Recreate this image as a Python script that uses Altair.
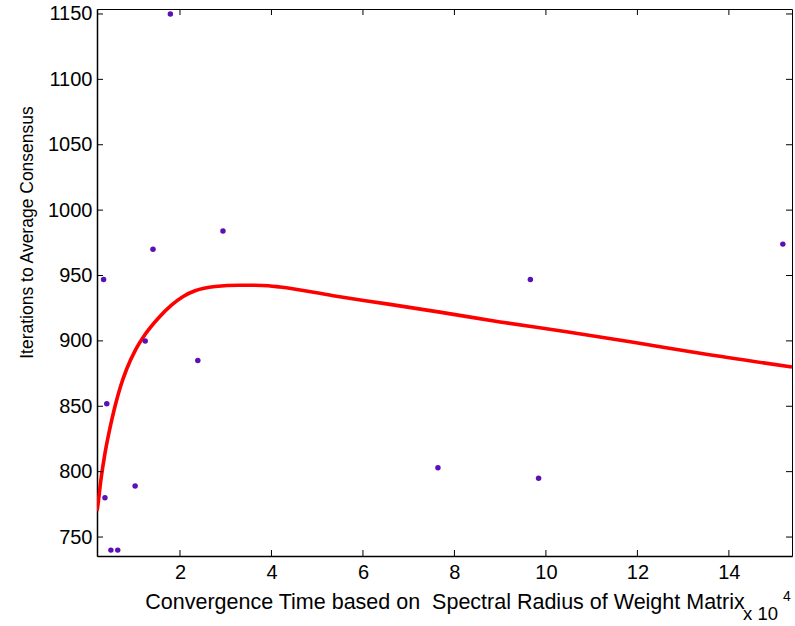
import altair as alt
import pandas as pd

# Scatter data (x in units of 10^4)
pt_x = [0.36, 0.40, 0.33, 0.49, 0.64, 1.02, 1.24, 1.41, 1.79, 2.39, 2.94, 7.64, 9.66, 9.84, 15.18]
pt_y = [780, 852, 947, 740, 740, 789, 900, 970, 1150, 885, 984, 803, 947, 795, 974]

# Fitted curve
cv_x = [0.186, 0.20, 0.27, 0.36, 0.47, 0.58, 0.69, 0.835, 1.02, 1.24, 1.53, 1.82, 2.07,
        2.33, 2.77, 3.3, 3.8, 4.19, 5.35, 6.52, 7.68, 9.0, 10.45, 11.91, 13.37, 15.38]
cv_y = [770, 773, 793.5, 814, 833.5, 850, 864, 878.5, 892.5, 905, 917.5, 927.5, 934,
        938.3, 941.6, 942.6, 942.4, 941.2, 934.5, 928.3, 922, 914.5, 907, 899, 890.5, 880]

x_ticks = [2, 4, 6, 8, 10, 12, 14]
y_ticks = [750, 800, 850, 900, 950, 1000, 1050, 1100, 1150]

x_title = "Convergence Time based on \u00a0Spectral Radius of Weight Matrix"
y_title = "Iterations to Average Consensus"

W, H = 695, 547
FONT = "Liberation Sans"

xs = alt.Scale(domain=[0.186, 15.38], nice=False, zero=False)
ys = alt.Scale(domain=[735.5, 1153.8], nice=False, zero=False)

pts = pd.DataFrame({"x": pt_x, "y": pt_y})
cur = pd.DataFrame({"x": cv_x, "y": cv_y})
xt = pd.DataFrame({"x": x_ticks})
yt = pd.DataFrame({"y": y_ticks})

x_axis = alt.Axis(values=x_ticks, format="d", title=x_title, grid=False, ticks=False,
                  domain=True, domainColor="black", domainWidth=1.5, labelFont=FONT,
                  labelFontSize=20, labelColor="black", labelPadding=6, titleFont=FONT,
                  titleFontSize=21.5, titleFontWeight="normal", titleColor="black",
                  titlePadding=9)
y_axis = alt.Axis(values=y_ticks, format="d", title=y_title, grid=False, ticks=False,
                  domain=True, domainColor="black", domainWidth=1.5, labelFont=FONT,
                  labelFontSize=20, labelColor="black", labelPadding=5, titleFont=FONT,
                  titleFontSize=17.5, titleFontWeight="normal", titleColor="black",
                  titleAngle=270, titleAlign="center", titleBaseline="alphabetic",
                  titleX=-65, titleY=223)

line = alt.Chart(cur).mark_line(color="#ff0000", strokeWidth=3.6, interpolate="monotone",
                                clip=True).encode(
    x=alt.X("x:Q", scale=xs, axis=x_axis),
    y=alt.Y("y:Q", scale=ys, axis=y_axis),
)
dots = alt.Chart(pts).mark_circle(color="#5a10b4", opacity=1, size=30).encode(
    x=alt.X("x:Q", scale=xs, axis=x_axis),
    y=alt.Y("y:Q", scale=ys, axis=y_axis),
)

def ytick(x0, x1):
    return alt.Chart(yt).mark_rule(color="black", strokeWidth=1).encode(
        y=alt.Y("y:Q", scale=ys, axis=y_axis), x=alt.value(x0), x2=alt.value(x1))

def xtick(y0, y1):
    return alt.Chart(xt).mark_rule(color="black", strokeWidth=1).encode(
        x=alt.X("x:Q", scale=xs, axis=x_axis), y=alt.value(y0), y2=alt.value(y1))

ticks = [ytick(0, 6), ytick(W - 6, W), xtick(0, 6), xtick(H - 6, H)]

mult = alt.Chart(pd.DataFrame({"t": ["x 10"]})).mark_text(
    font=FONT, fontSize=18.5, color="black", align="left", baseline="alphabetic").encode(
    text="t:N", x=alt.value(646), y=alt.value(611))
expo = alt.Chart(pd.DataFrame({"t": ["4"]})).mark_text(
    font=FONT, fontSize=14, color="black", align="left", baseline="alphabetic").encode(
    text="t:N", x=alt.value(686), y=alt.value(592))

chart = alt.layer(line, dots, *ticks, mult, expo).properties(
    width=W, height=H,
    background="white",
    padding={"left": 97, "top": 9, "right": 3, "bottom": 70},
    autosize=alt.AutoSizeParams(type="none"),
).configure_view(stroke="black", strokeWidth=1)

chart.save("out.html", embed_options={"renderer": "svg", "actions": False})
